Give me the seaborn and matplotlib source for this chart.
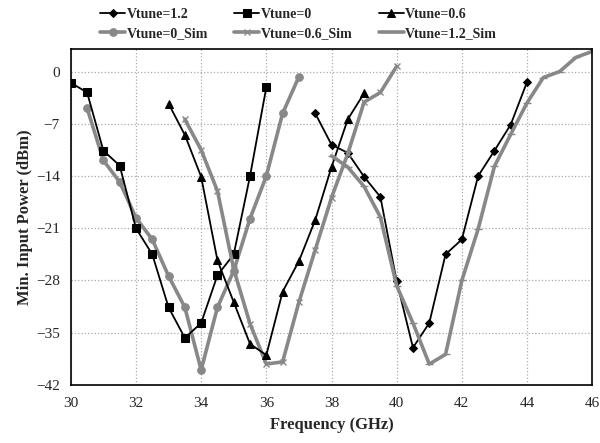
import numpy as np
import pandas as pd
import matplotlib
matplotlib.use("Agg")
import matplotlib.pyplot as plt
import seaborn as sns

f_v12 = [37.5, 38, 38.5, 39, 39.5, 40, 40.5, 41, 41.5, 42, 42.5, 43, 43.5, 44]
p_v12 = [-5.6, -9.8, -10.9, -14.1, -16.8, -28.1, -37.0, -33.7, -24.5, -22.5, -14.0, -10.6, -7.1, -1.4]

f_v0 = [30, 30.5, 31, 31.5, 32, 32.5, 33, 33.5, 34, 34.5, 35, 35.5, 36]
p_v0 = [-1.5, -2.8, -10.6, -12.6, -21.0, -24.5, -31.6, -35.7, -33.7, -27.3, -24.5, -14.0, -2.1]

f_v06 = [33, 33.5, 34, 34.5, 35, 35.5, 36, 36.5, 37, 37.5, 38, 38.5, 39]
p_v06 = [-4.3, -8.5, -14.1, -25.3, -30.9, -36.5, -38.0, -29.5, -25.4, -19.9, -12.8, -6.4, -2.9]

f_v0_sim = [30.5, 31, 31.5, 32, 32.5, 33, 33.5, 34, 34.5, 35, 35.5, 36, 36.5, 37]
p_v0_sim = [-4.9, -11.9, -14.8, -19.6, -22.5, -27.4, -31.6, -40.0, -31.6, -26.7, -19.7, -14.0, -5.6, -0.7]

f_v06_sim = [33.5, 34, 34.5, 35, 35.5, 36, 36.5, 37, 37.5, 38, 38.5, 39, 39.5, 40]
p_v06_sim = [-6.4, -10.5, -16.0, -26.5, -33.8, -39.2, -38.9, -30.9, -23.9, -16.9, -11.0, -4.1, -2.8, 0.7]

f_v12_sim = [38, 38.5, 39, 39.5, 40, 40.5, 41, 41.5, 42, 42.5, 43, 43.5, 44, 44.5, 45, 45.5, 46]
p_v12_sim = [-11.3, -12.8, -15.4, -19.5, -28.7, -33.7, -39.2, -37.9, -28.0, -21.1, -12.7, -8.4, -4.2, -0.8, 0.0, 1.9, 2.7]

x_ticks = [30, 32, 34, 36, 38, 40, 42, 44, 46]
y_ticks = [0, -7, -14, -21, -28, -35, -42]

sns.set_style("white")
plt.rcParams['font.family'] = ['Liberation Serif', 'DejaVu Serif']

fig = plt.figure(figsize=(6, 4.43), dpi=100)
ax = fig.add_axes([0.118, 0.131, 0.869, 0.758])

gray = "#888888"
series = [
    ("Vtune=1.2", f_v12, p_v12, dict(color="black", lw=1.3, marker="D", markersize=4)),
    ("Vtune=0_Sim", f_v0_sim, p_v0_sim, dict(color=gray, lw=2.6, marker="o", markersize=5.5)),
    ("Vtune=0", f_v0, p_v0, dict(color="black", lw=1.3, marker="s", markersize=6)),
    ("Vtune=0.6_Sim", f_v06_sim, p_v06_sim, dict(color=gray, lw=2.6, marker="x", markersize=5, markeredgewidth=1)),
    ("Vtune=0.6", f_v06, p_v06, dict(color="black", lw=1.3, marker="^", markersize=6)),
    ("Vtune=1.2_Sim", f_v12_sim, p_v12_sim, dict(color=gray, lw=2.6, marker="_", markersize=6, markeredgewidth=1)),
]

for name, fx, py, style in series:
    df = pd.DataFrame({"f": fx, "p": py})
    sns.lineplot(data=df, x="f", y="p", ax=ax, label=name, sort=False,
                 markeredgecolor=style["color"], **style)

ax.set_xlim(30, 46)
ax.set_ylim(-42, 3)
ax.set_xticks(x_ticks)
ax.set_yticks(y_ticks)
ax.grid(True, color="#aaaaaa", linestyle=":", linewidth=0.9)
ax.tick_params(length=0, labelsize=11)
ax.tick_params(axis="x", pad=9)
ax.tick_params(axis="y", pad=8)
for s in ax.spines.values():
    s.set_color("black")
    s.set_linewidth(1.2)

ax.set_xlabel("Frequency (GHz)", fontsize=12, fontweight="bold", labelpad=5)
ax.set_ylabel("Min. Input Power (dBm)", fontsize=12, fontweight="bold", labelpad=2)

ax.legend(loc="upper left", bbox_to_anchor=(100 / 600, 1 - 8 / 443), bbox_transform=fig.transFigure,
          ncol=3, frameon=False, prop={"weight": "bold", "size": 10},
          borderpad=0, borderaxespad=0,
          handlelength=1.8, handletextpad=0.1, columnspacing=1.9, labelspacing=0.45)

fig.savefig("out.png", dpi=100)
